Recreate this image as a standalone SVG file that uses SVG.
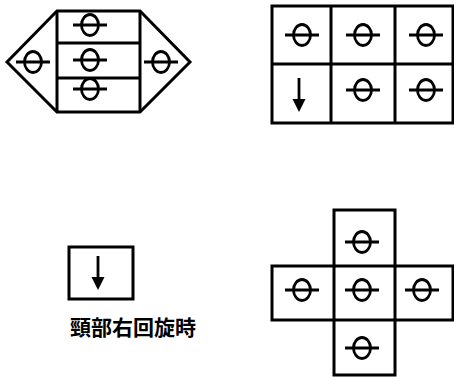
<svg xmlns="http://www.w3.org/2000/svg" xmlns:xlink="http://www.w3.org/1999/xlink" width="454" height="377" viewBox="0 0 454 377">
<style>
.box{fill:#fff;stroke:#000;stroke-width:3;stroke-linejoin:miter}
.sym{fill:none;stroke:#000;stroke-width:2.8}
.lbl{font-family:"Noto Sans CJK JP","Noto Sans CJK SC",sans-serif;font-size:21px;font-weight:bold;fill:#000}
</style>
<defs>
<g id="theta"><ellipse class="sym" cx="0" cy="0" rx="8.5" ry="10.5"/><line class="sym" x1="-17" y1="0" x2="17" y2="0"/></g>
<g id="arrow"><line x1="0" y1="-17" x2="0" y2="6" stroke="#000" stroke-width="2.8"/><polygon points="-6.5,4 6.5,4 0,17" fill="#000"/></g>
</defs>
<g id="hexagon">
<polygon class="box" points="7,62 57,11 140,11 190,62 140,112 57,112"/>
<line class="box" x1="57" y1="11" x2="57" y2="112"/>
<line class="box" x1="140" y1="11" x2="140" y2="112"/>
<line class="box" x1="57" y1="43" x2="140" y2="43"/>
<line class="box" x1="57" y1="78" x2="140" y2="78"/>
<use xlink:href="#theta" x="90" y="25"/>
<use xlink:href="#theta" x="90" y="60"/>
<use xlink:href="#theta" x="90" y="89"/>
<use xlink:href="#theta" x="33" y="62"/>
<use xlink:href="#theta" x="161" y="62"/>
</g>
<g id="grid">
<rect class="box" x="272" y="6" width="181" height="117"/>
<line class="box" x1="331" y1="6" x2="331" y2="123"/>
<line class="box" x1="395" y1="6" x2="395" y2="123"/>
<line class="box" x1="272" y1="64" x2="453" y2="64"/>
<use xlink:href="#theta" x="302" y="35"/>
<use xlink:href="#theta" x="363" y="35"/>
<use xlink:href="#theta" x="426" y="35"/>
<use xlink:href="#arrow" x="299" y="95"/>
<use xlink:href="#theta" x="363" y="90"/>
<use xlink:href="#theta" x="426" y="90"/>
</g>
<g id="legend">
<rect class="box" x="69" y="247" width="64" height="52"/>
<use xlink:href="#arrow" x="98" y="273"/>
<text class="lbl" x="133" y="335" text-anchor="middle">頸部右回旋時</text>
</g>
<g id="cross">
<path class="box" d="M334,210 H395 V266 H453 V320 H395 V375 H334 V320 H272 V266 H334 Z"/>
<line class="box" x1="334" y1="266" x2="395" y2="266"/>
<line class="box" x1="334" y1="320" x2="395" y2="320"/>
<line class="box" x1="334" y1="266" x2="334" y2="320"/>
<line class="box" x1="395" y1="266" x2="395" y2="320"/>
<use xlink:href="#theta" x="362" y="242"/>
<use xlink:href="#theta" x="302" y="290"/>
<use xlink:href="#theta" x="362" y="290"/>
<use xlink:href="#theta" x="422" y="290"/>
<use xlink:href="#theta" x="362" y="348"/>
</g>
</svg>
